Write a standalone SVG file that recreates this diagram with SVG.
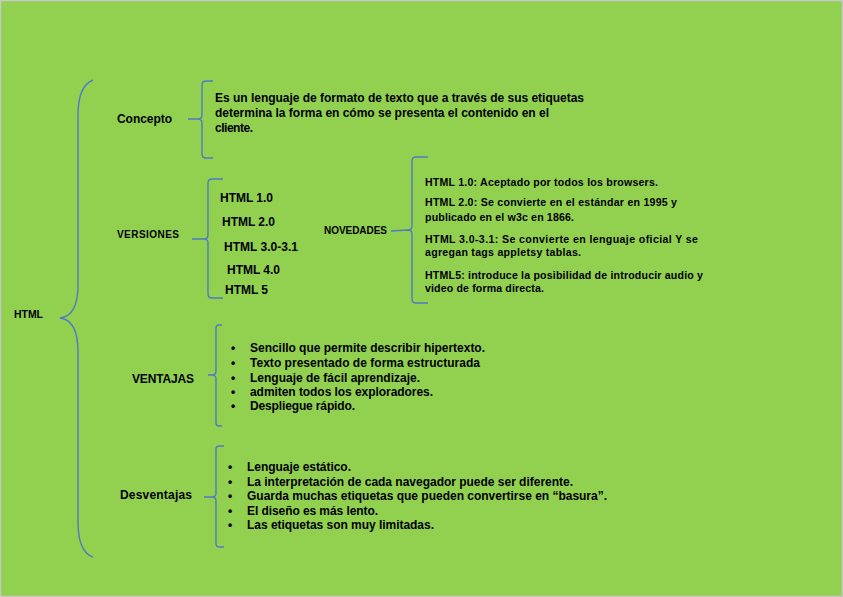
<svg xmlns="http://www.w3.org/2000/svg" width="843" height="597" viewBox="0 0 843 597">
<style>
text{font-family:"Liberation Sans",Arial,sans-serif;font-weight:bold;fill:#000;}
.b{fill:none;stroke:#4F7BC4;stroke-width:1.4;}
.t12{font-size:12px;}
.t11{font-size:10.6px;}
.t10{font-size:10px;}
</style>
<rect x="0.5" y="0.5" width="842" height="596" fill="#92D050" stroke="#C8C8C8" stroke-width="1.5"/>
<g id="connectors">
<path class="b" d="M93 80 Q78 86 78 115 L78 285 Q78 316 60 318 Q78 320 78 352 L78 522 Q78 552 93 557"/>
<path class="b" d="M213 81 L206 81 Q202 81 202 85 L202 115 Q202 119 198 119 L188 119 M198 119 Q202 119 202 123 L202 154 Q202 158 206 158 L213 158"/>
<path class="b" d="M223 179 L212 179 Q208 179 208 183 L208 235 Q208 239 204 239 L192 239 M204 239 Q208 239 208 243 L208 294 Q208 298 212 298 L223 298"/>
<path class="b" d="M428 157 L416 157 Q412 157 412 161 L412 226 Q412 230 408 230 L391 231 M408 230 Q412 230 412 234 L412 299 Q412 303 416 303 L428 303"/>
<path class="b" d="M222 325 L219 325 Q216 325 216 328 L216 371 Q216 375 212 375 L208 375 M212 375 Q216 375 216 379 L216 423 Q216 426 219 426 L222 426"/>
<path class="b" d="M224 446 L220 446 Q216 446 216 449 L216 493 Q216 497 212 497 L204 497 M212 497 Q216 497 216 501 L216 544 Q216 547 220 547 L224 547"/>
</g>
<g id="html"><text class="t10" x="14" y="318" textLength="29" lengthAdjust="spacingAndGlyphs">HTML</text></g>
<g id="concepto"><text class="t12" x="117" y="123" textLength="55" lengthAdjust="spacing">Concepto</text></g>
<g id="concepto-texto">
<text class="t12" x="215" y="102" textLength="369" lengthAdjust="spacing">Es un lenguaje de formato de texto que a través de sus etiquetas</text>
<text class="t12" x="215" y="117" textLength="334" lengthAdjust="spacing">determina la forma en cómo se presenta el contenido en el</text>
<text class="t12" x="215" y="132" textLength="38" lengthAdjust="spacing">cliente.</text>
</g>
<g id="versiones"><text class="t10" x="117" y="238" textLength="62" lengthAdjust="spacing">VERSIONES</text></g>
<g id="versiones-lista">
<text class="t12" x="220" y="202" textLength="53" lengthAdjust="spacing">HTML 1.0</text>
<text class="t12" x="222" y="226" textLength="53" lengthAdjust="spacing">HTML 2.0</text>
<text class="t12" x="224" y="251" textLength="74" lengthAdjust="spacing">HTML 3.0-3.1</text>
<text class="t12" x="227" y="274" textLength="53" lengthAdjust="spacing">HTML 4.0</text>
<text class="t12" x="225" y="294" textLength="43" lengthAdjust="spacing">HTML 5</text>
</g>
<g id="novedades"><text class="t10" x="324" y="234" textLength="63" lengthAdjust="spacing">NOVEDADES</text></g>
<g id="novedades-texto">
<text class="t11" x="425" y="186" textLength="233" lengthAdjust="spacing">HTML 1.0:  Aceptado por todos los browsers.</text>
<text class="t11" x="425" y="206" textLength="252" lengthAdjust="spacing">HTML 2.0: Se convierte en el estándar en 1995 y</text>
<text class="t11" x="425" y="221" textLength="149" lengthAdjust="spacing">publicado en el w3c en 1866.</text>
<text class="t11" x="425" y="243" textLength="273" lengthAdjust="spacing">HTML 3.0-3.1: Se convierte en lenguaje oficial Y  se</text>
<text class="t11" x="425" y="256" textLength="156" lengthAdjust="spacing">agregan tags appletsy tablas.</text>
<text class="t11" x="425" y="279" textLength="278" lengthAdjust="spacing">HTML5: introduce la posibilidad de introducir audio y</text>
<text class="t11" x="425" y="292" textLength="119" lengthAdjust="spacing">video de forma directa.</text>
</g>
<g id="ventajas"><text class="t12" x="132" y="383" textLength="62" lengthAdjust="spacing">VENTAJAS</text></g>
<g id="ventajas-lista">
<text class="t12" x="231" y="352">•</text><text class="t12" x="250" y="352" textLength="235" lengthAdjust="spacing">Sencillo que permite describir hipertexto.</text>
<text class="t12" x="231" y="367">•</text><text class="t12" x="250" y="367" textLength="230" lengthAdjust="spacing">Texto presentado de forma estructurada</text>
<text class="t12" x="231" y="382">•</text><text class="t12" x="250" y="382" textLength="170" lengthAdjust="spacing">Lenguaje de fácil aprendizaje.</text>
<text class="t12" x="231" y="396">•</text><text class="t12" x="250" y="396" textLength="183" lengthAdjust="spacing">admiten todos los exploradores.</text>
<text class="t12" x="231" y="410">•</text><text class="t12" x="250" y="410" textLength="105" lengthAdjust="spacing">Despliegue rápido.</text>
</g>
<g id="desventajas"><text class="t12" x="120" y="499" textLength="72" lengthAdjust="spacing">Desventajas</text></g>
<g id="desventajas-lista">
<text class="t12" x="228" y="471">•</text><text class="t12" x="247" y="471" textLength="104" lengthAdjust="spacing">Lenguaje estático.</text>
<text class="t12" x="228" y="486">•</text><text class="t12" x="247" y="486" textLength="326" lengthAdjust="spacing">La interpretación de cada navegador puede ser diferente.</text>
<text class="t12" x="228" y="500">•</text><text class="t12" x="247" y="500" textLength="360" lengthAdjust="spacing">Guarda muchas etiquetas que pueden convertirse en “basura”.</text>
<text class="t12" x="228" y="515">•</text><text class="t12" x="247" y="515" textLength="131" lengthAdjust="spacing">El diseño es más lento.</text>
<text class="t12" x="228" y="529">•</text><text class="t12" x="247" y="529" textLength="187" lengthAdjust="spacing">Las etiquetas son muy limitadas.</text>
</g>
</svg>
